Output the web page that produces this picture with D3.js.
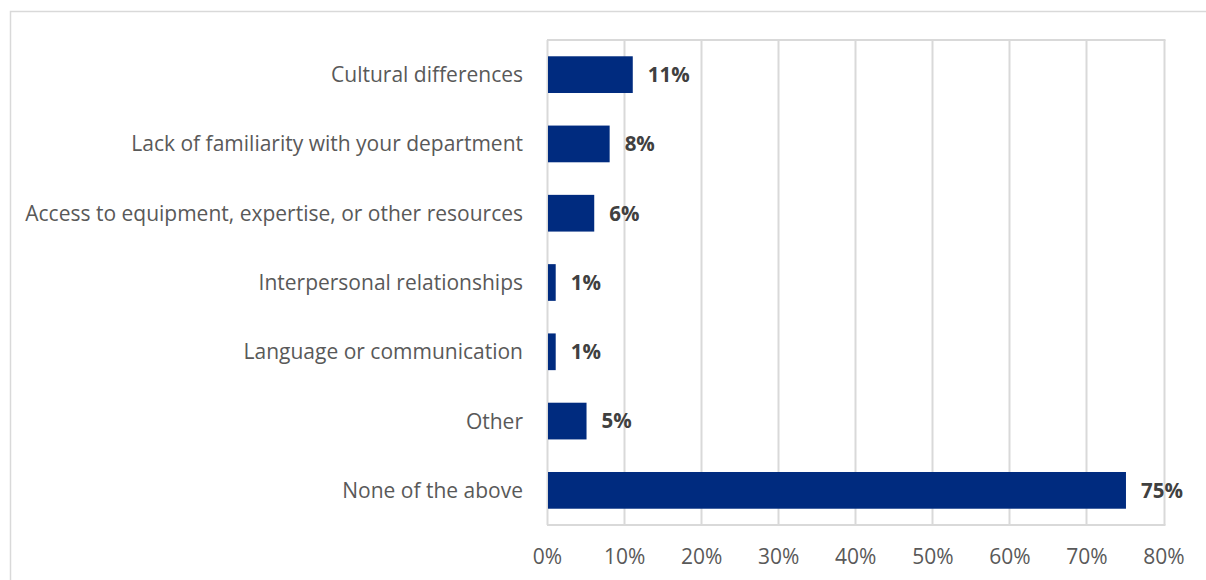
<!DOCTYPE html>
<html>
<head>
<meta charset="utf-8">
<script src="https://cdn.jsdelivr.net/npm/d3@7"></script>
<style>
  html, body { margin: 0; padding: 0; background: #fff; }
  svg { display: block; }
</style>
</head>
<body>
<svg id="chart" width="1206" height="580"></svg>
<script>
// Survey responses, top to bottom
const categories = [
  "Cultural differences",
  "Lack of familiarity with your department",
  "Access to equipment, expertise, or other resources",
  "Interpersonal relationships",
  "Language or communication",
  "Other",
  "None of the above"
];
const values = [11, 8, 6, 1, 1, 5, 75];
const tickValues = [0, 10, 20, 30, 40, 50, 60, 70, 80];

const W = 1206, H = 580;
const plot = { left: 547, right: 1163.5, top: 40, bottom: 525 };
const font = "'Open Sans', sans-serif";

const svg = d3.select("#chart");

// outer chart frame
svg.append("rect")
  .attr("x", 10.5).attr("y", 11.5)
  .attr("width", W + 20).attr("height", H + 20)
  .attr("fill", "none").attr("stroke", "#d9d9d9").attr("stroke-width", 1.5);

const x = d3.scaleLinear().domain([0, 80]).range([plot.left, plot.right]);
const y = d3.scaleBand().domain(categories).range([plot.top, plot.bottom]).paddingInner(0.47).paddingOuter(0.235);

// vertical gridlines
svg.append("g").selectAll("line").data(tickValues).join("line")
  .attr("x1", d => Math.round(x(d)) + 0.5).attr("x2", d => Math.round(x(d)) + 0.5)
  .attr("y1", plot.top).attr("y2", plot.bottom)
  .attr("stroke", "#d9d9d9").attr("stroke-width", 2);

// plot area top and bottom edges
svg.append("g").selectAll("line").data([plot.top, plot.bottom]).join("line")
  .attr("x1", plot.left).attr("x2", Math.round(x(80)) + 1.5)
  .attr("y1", d => d).attr("y2", d => d)
  .attr("stroke", "#d9d9d9").attr("stroke-width", 2);

// bars
svg.append("g").selectAll("rect").data(values).join("rect")
  .attr("x", x(0) + 1)
  .attr("y", (d, i) => y(categories[i]))
  .attr("width", d => x(d) - x(0))
  .attr("height", y.bandwidth())
  .attr("fill", "#002b7f");

// value labels
svg.append("g").selectAll("text").data(values).join("text")
  .attr("x", d => x(d) + 16)
  .attr("y", (d, i) => y(categories[i]) + y.bandwidth() / 2)
  .attr("dy", "0.36em")
  .attr("font-family", font).attr("font-weight", "bold").attr("font-size", 20.5)
  .attr("fill", "#404040")
  .text(d => d + "%");

// category axis labels
svg.append("g").selectAll("text").data(categories).join("text")
  .attr("x", 523)
  .attr("y", d => y(d) + y.bandwidth() / 2)
  .attr("dy", "0.36em")
  .attr("text-anchor", "end")
  .attr("font-family", font).attr("font-size", 21)
  .attr("fill", "#595959")
  .text(d => d);

// x axis tick labels
const xAxis = svg.append("g")
  .attr("transform", `translate(0,${plot.bottom})`)
  .call(d3.axisBottom(x).tickValues(tickValues).tickFormat(d => d + "%").tickSize(0).tickPadding(24));
xAxis.select(".domain").remove();
xAxis.selectAll("text")
  .attr("font-family", font).attr("font-size", 21)
  .attr("fill", "#595959");
</script>
</body>
</html>
